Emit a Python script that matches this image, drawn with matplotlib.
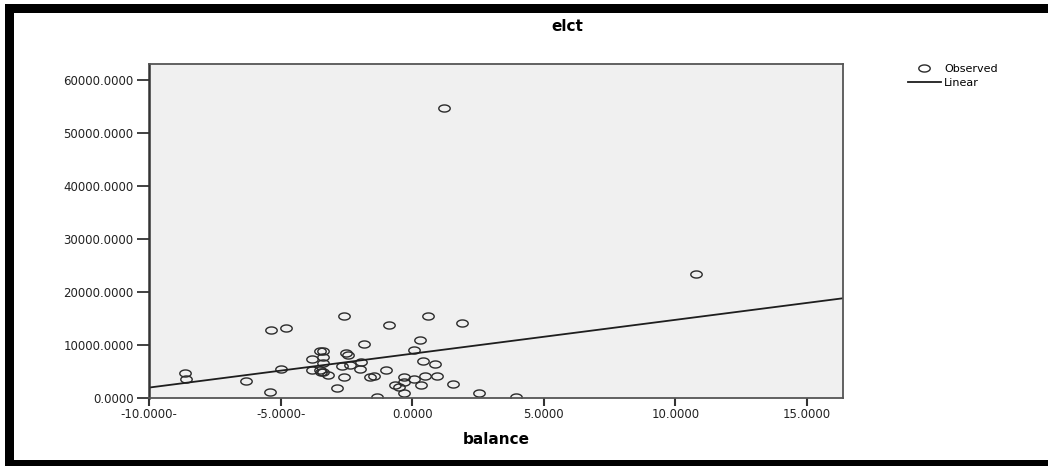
import numpy as np
import matplotlib.pyplot as plt
from matplotlib.path import Path
from matplotlib.patches import Rectangle

# values (balance -> elct)
balance = [-8.65, -8.6, -6.3, -5.4, -5.35, -4.8, -5.0,
           -3.8, -3.5, -3.4, -3.4, -3.4, -3.8, -3.5, -3.45, -3.4, -3.2,
           -2.6, -2.5, -2.45, -2.65, -2.35, -1.95, -2.0, -2.6, -2.85, -1.85,
           -1.6, -1.45, -1.35, -1.0, -0.9, -0.65, -0.5, -0.3, -0.3, -0.3,
           0.05, 0.05, 0.3, 0.4, 0.35, 0.5, 0.6, 0.85, 0.95, 1.2, 1.55, 1.9,
           2.55, 3.95, 10.8]
elct = [4700, 3600, 3200, 1100, 12900, 13200, 5400,
        7400, 8900, 8800, 7800, 6600, 5300, 5300, 5000, 4900, 4300,
        15500, 8500, 8100, 6000, 6300, 6800, 5500, 3900, 1900, 10100,
        4000, 4100, 200, 5200, 13800, 2500, 2100, 3900, 3100, 900,
        3600, 9000, 10900, 7000, 2500, 4100, 15500, 6500, 4200, 54700, 2700, 14100,
        1000, 200, 23300]

xticks = [-10, -5, 0, 5, 10, 15]
xtick_labels = ['-10.0000-', '-5.0000-', '0.0000', '5.0000', '10.0000', '15.0000']
yticks = [0, 10000, 20000, 30000, 40000, 50000, 60000]
ytick_labels = ['0.0000', '10000.0000', '20000.0000', '30000.0000',
                '40000.0000', '50000.0000', '60000.0000']
xmin, xmax = -10, 16.37
ymin, ymax = 0, 63000

plt.rcParams['font.family'] = ['DejaVu Sans']

fig = plt.figure(figsize=(10.48, 4.66), dpi=100)
ax = fig.add_axes([0.1422, 0.1459, 0.6622, 0.7168])
ax.set_facecolor('#f0f0f0')

# wide open ellipse marker, like the stretched SPSS circles
t = np.linspace(0, 2 * np.pi, 61)
ell = Path(np.column_stack([np.cos(t), 0.62 * np.sin(t)]), closed=True)

ax.plot(balance, elct, linestyle='none', marker=ell, markersize=8.2,
        markerfacecolor='none', markeredgecolor='#2a2a2a', markeredgewidth=1.0,
        label='Observed')

b1, b0 = np.polyfit(balance, elct, 1)
xs = np.array([xmin, xmax])
ax.plot(xs, b0 + b1 * xs, color='#1e1e1e', linewidth=1.3, label='Linear')

ax.set_xlim(xmin, xmax)
ax.set_ylim(ymin, ymax)
ax.set_xticks(xticks)
ax.set_xticklabels(xtick_labels)
ax.set_yticks(yticks)
ax.set_yticklabels(ytick_labels)
ax.tick_params(axis='x', direction='out', length=6, width=1.5, color='#333333',
               labelsize=8.5, labelcolor='#222222', pad=1)
ax.tick_params(axis='y', direction='out', length=9, width=1.3, color='#333333',
               labelsize=8.5, labelcolor='#222222', pad=2)
for side in ['top', 'right', 'bottom']:
    ax.spines[side].set_color('#555555')
    ax.spines[side].set_linewidth(1.3)
ax.spines['left'].set_color('#333333')
ax.spines['left'].set_linewidth(1.8)

ax.set_xlabel('balance', fontsize=11, fontweight='bold', labelpad=8)
fig.text(0.541, 0.944, 'elct', fontsize=11, fontweight='bold', ha='center', va='center')

fig.legend(loc='upper left', bbox_to_anchor=(0.866, 0.862), frameon=False,
           fontsize=8, handlelength=3.0, handletextpad=0.3, labelspacing=0.3,
           borderpad=0, borderaxespad=0)

# thick black frame round the picture (right side cut off)
fig.add_artist(Rectangle((5 / 1048, 453 / 466), 1 - 5 / 1048, 9 / 466,
                         transform=fig.transFigure, color='black', lw=0))
fig.add_artist(Rectangle((5 / 1048, 0), 9 / 1048, 462 / 466,
                         transform=fig.transFigure, color='black', lw=0))
fig.add_artist(Rectangle((5 / 1048, 0), 1 - 5 / 1048, 6 / 466,
                         transform=fig.transFigure, color='black', lw=0))

fig.savefig('out.png', dpi=100)
